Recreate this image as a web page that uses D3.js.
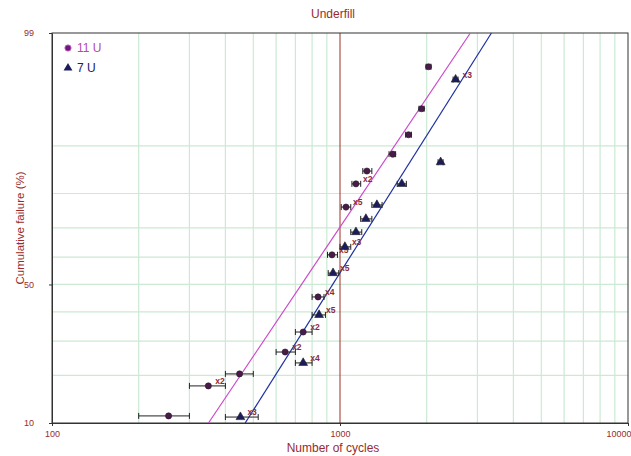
<!DOCTYPE html>
<html><head><meta charset="utf-8">
<script src="https://cdn.jsdelivr.net/npm/d3@7"></script>
<style>body{margin:0;background:#fff}svg{display:block}</style>
</head><body>
<script>
// ---- data ----
const seriesNames = ["11 U", "7 U"];
const u11Cycles = [2030, 1920, 1730, 1525, 1240, 1136, 1049, 938, 839, 745, 645, 448, 349, 254];
const u11Pct    = [97.8, 94.8, 91.7, 88.6, 85.3, 82.4, 76.3, 60.8, 45.4, 33.0, 26.6, 20.4, 17.4, 11.2];
const u11Mult   = [1, 1, 1, 1, 1, 2, 5, 5, 4, 2, 2, 1, 2, 1];
const u11Low    = [1990, 1880, 1690, 1480, 1200, 1100, 1010, 905, 800, 700, 600, 400, 300, 200];
const u11High   = [2070, 1960, 1770, 1560, 1290, 1180, 1090, 980, 880, 800, 700, 500, 400, 300];
const u7Cycles  = [2520, 2236, 1639, 1343, 1230, 1136, 1040, 946, 846, 745, 451];
const u7Pct     = [97.1, 87.1, 82.4, 76.9, 72.8, 68.6, 63.6, 54.2, 38.9, 23.4, 11.0];
const u7Mult    = [3, 1, 1, 1, 1, 1, 3, 5, 5, 4, 3];
const u7Low     = [2470, 2190, 1580, 1290, 1180, 1090, 1000, 910, 800, 700, 400];
const u7High    = [2570, 2280, 1700, 1400, 1290, 1190, 1090, 990, 890, 800, 520];
const fitMedian = [735, 943];
const fitSigma  = [0.252, 0.237];
const xTicks = [100, 1000, 10000];
const yTicks = [10, 50, 99];
const xGrid = [200,300,400,500,600,700,800,900,2000,3000,4000,5000,6000,7000,8000,9000];
const yGrid = [20,30,40,50,60,70,80,90];
const refCycles = 1000;

// inverse normal CDF (Acklam)
function qnorm(p){
  const a=[-3.969683028665376e+01,2.209460984245205e+02,-2.759285104469687e+02,1.383577518672690e+02,-3.066479806614716e+01,2.506628277459239e+00];
  const b=[-5.447609879822406e+01,1.615858368580409e+02,-1.556989798598866e+02,6.680131188771972e+01,-1.328068155288572e+01];
  const c=[-7.784894002430293e-03,-3.223964580411365e-01,-2.400758277161838e+00,-2.549732539343734e+00,4.374664141464968e+00,2.938163982698783e+00];
  const d=[7.784695709041462e-03,3.224671290700398e-01,2.445134137142996e+00,3.754408661907416e+00];
  const pl=0.02425, ph=1-pl; let q,r;
  if(p<pl){q=Math.sqrt(-2*Math.log(p));return (((((c[0]*q+c[1])*q+c[2])*q+c[3])*q+c[4])*q+c[5])/((((d[0]*q+d[1])*q+d[2])*q+d[3])*q+1);}
  if(p<=ph){q=p-0.5;r=q*q;return (((((a[0]*r+a[1])*r+a[2])*r+a[3])*r+a[4])*r+a[5])*q/(((((b[0]*r+b[1])*r+b[2])*r+b[3])*r+b[4])*r+1);}
  q=Math.sqrt(-2*Math.log(1-p));return -(((((c[0]*q+c[1])*q+c[2])*q+c[3])*q+c[4])*q+c[5])/((((d[0]*q+d[1])*q+d[2])*q+d[3])*q+1);
}

const W=631,H=456;
const L=52,R=628,T=33,B=423;
const svg=d3.select("body").append("svg").attr("width",W).attr("height",H)
  .style("font-family","'Liberation Sans',Arial,sans-serif");

const x=d3.scaleLog().domain([100,10000]).range([L,R]);
const yz=d3.scaleLinear().domain([qnorm(0.10),qnorm(0.99)]).range([B,T]);
const y=p=>yz(qnorm(p/100));

const textCol="#9a2b2b";
const gridCol="#cbe9d3";

// grid
svg.append("g").selectAll("line").data(xGrid).join("line")
  .attr("x1",d=>x(d)).attr("x2",d=>x(d)).attr("y1",T).attr("y2",B)
  .attr("stroke",gridCol).attr("stroke-width",1.2);
svg.append("g").selectAll("line").data(yGrid).join("line")
  .attr("x1",L).attr("x2",R).attr("y1",d=>y(d)).attr("y2",d=>y(d))
  .attr("stroke",gridCol).attr("stroke-width",1.2);

// reference line at 1000
svg.append("line").attr("x1",x(refCycles)).attr("x2",x(refCycles)).attr("y1",T).attr("y2",B)
  .attr("stroke","#a03028").attr("stroke-width",1);

// frame
svg.append("rect").attr("x",L).attr("y",T).attr("width",R-L).attr("height",B-T)
  .attr("fill","none").attr("stroke","#333").attr("stroke-width",1);

// axes
const xAxis=d3.axisBottom(x).tickValues(xTicks).tickFormat(d3.format("d")).tickSize(3).tickSizeOuter(0);
const gx=svg.append("g").attr("transform",`translate(0,${B})`).call(xAxis);
gx.select(".domain").attr("stroke","#333");
gx.selectAll(".tick line").attr("stroke","#333");
gx.selectAll("text").attr("fill",textCol).attr("font-size",9).attr("dy","0.9em");
gx.selectAll(".tick text").filter(d=>d===10000).attr("text-anchor","end").attr("dx",3);

const yAxis=d3.axisLeft(yz).tickValues(yTicks.map(p=>qnorm(p/100))).tickFormat((d,i)=>yTicks[i]).tickSize(3).tickSizeOuter(0);
const gy=svg.append("g").attr("transform",`translate(${L},0)`).call(yAxis);
gy.select(".domain").attr("stroke","#333");
gy.selectAll(".tick line").attr("stroke","#333");
gy.selectAll("text").attr("fill",textCol).attr("font-size",9).attr("dx","-12");

// titles
svg.append("text").attr("x",333).attr("y",18).attr("text-anchor","middle")
  .attr("fill",textCol).attr("font-size",12).text("Underfill");
svg.append("text").attr("x",333).attr("y",452).attr("text-anchor","middle")
  .attr("fill",textCol).attr("font-size",12).text("Number of cycles");
svg.append("text").attr("transform","translate(24,228) rotate(-90)").attr("text-anchor","middle")
  .attr("fill",textCol).attr("font-size",11.5).text("Cumulative failure (%)");

// fit lines
const lineCols=["#cc48cc","#1f2fa0"];
[0,1].forEach(i=>{
  const pts=[10,99].map(p=>[x(Math.pow(10,Math.log10(fitMedian[i])+fitSigma[i]*qnorm(p/100))),y(p)]);
  svg.append("line").attr("x1",pts[0][0]).attr("y1",pts[0][1]).attr("x2",pts[1][0]).attr("y2",pts[1][1])
    .attr("stroke",lineCols[i]).attr("stroke-width",1.2);
});

// points
const series=[
  {c:u11Cycles,p:u11Pct,m:u11Mult,lo:u11Low,hi:u11High,shape:"circle",fill:"#4a1a4a"},
  {c:u7Cycles,p:u7Pct,m:u7Mult,lo:u7Low,hi:u7High,shape:"triangle",fill:"#1c1c5c"}
];
series.forEach(s=>{
  const data=s.c.map((v,i)=>({v,p:s.p[i],m:s.m[i],lo:s.lo[i],hi:s.hi[i]}));
  const g=svg.append("g");
  g.selectAll(".eb").data(data).join("path").attr("class","eb")
    .attr("d",d=>{const yy=y(d.p),a=x(d.lo),b=x(d.hi);return `M${a},${yy}H${b}M${a},${yy-3}V${yy+3}M${b},${yy-3}V${yy+3}`;})
    .attr("stroke","#222").attr("stroke-width",1).attr("fill","none");
  const sym=d3.symbol().type(s.shape==="circle"?d3.symbolCircle:d3.symbolTriangle).size(s.shape==="circle"?30:34);
  g.selectAll(".mk").data(data).join("path").attr("class","mk")
    .attr("transform",d=>`translate(${x(d.v)},${y(d.p)})`).attr("d",sym)
    .attr("fill",s.fill).attr("stroke","#222").attr("stroke-width",0.6);
  g.selectAll(".ml").data(data.filter(d=>d.m>1)).join("text").attr("class","ml")
    .attr("x",d=>x(d.v)+7).attr("y",d=>y(d.p)-2).attr("font-size",8.5).attr("fill","#8a2a3a")
    .attr("font-weight","bold").text(d=>"x"+d.m);
});

// legend
const leg=svg.append("g");
leg.append("path").attr("transform","translate(68,48)").attr("d",d3.symbol().type(d3.symbolCircle).size(30))
  .attr("fill","#6a1a7a").attr("stroke","#c050c0");
leg.append("text").attr("x",77).attr("y",52).attr("font-size",12).attr("fill","#b04ab0").text(seriesNames[0]);
leg.append("path").attr("transform","translate(68,68)").attr("d",d3.symbol().type(d3.symbolTriangle).size(34))
  .attr("fill","#1c1c5c");
leg.append("text").attr("x",77).attr("y",72).attr("font-size",12).attr("fill","#20206a").text(seriesNames[1]);
</script>
</body></html>
